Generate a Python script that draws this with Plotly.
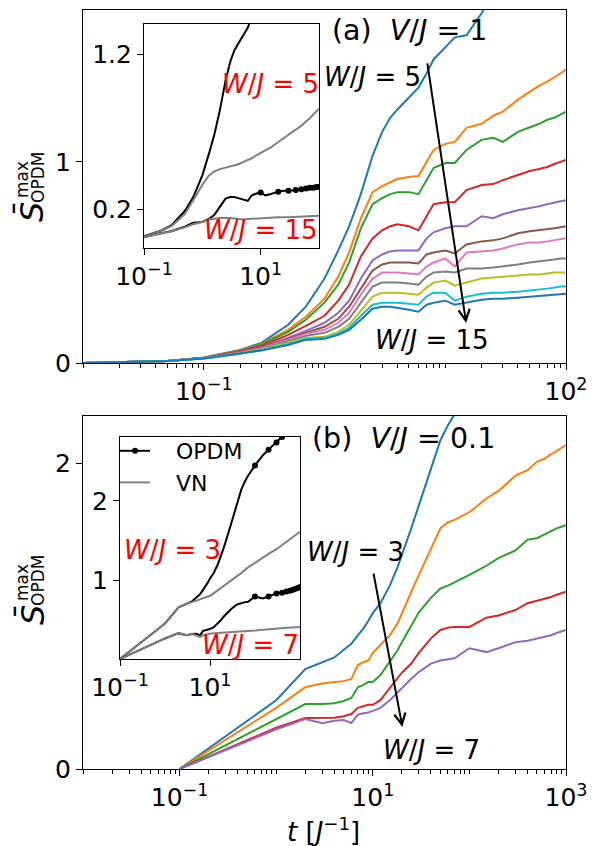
import plotly.graph_objects as go

# ---------------- data : panel (a), V/J = 1 ----------------
t_a = [0.01, 0.02, 0.05, 0.1, 0.2, 0.3, 0.5, 0.7, 1.0, 1.3, 1.6, 2.0, 2.5, 3.0, 3.5, 4, 5, 6, 7, 8,
       10, 12, 15, 20, 25, 30, 40, 50, 60, 70, 80, 90, 100]
W_a = [5, 6, 7, 8, 9, 10, 11, 12, 13, 14, 15]
S_a_W5 = [0, 0.003, 0.010, 0.027, 0.065, 0.10, 0.19, 0.28, 0.42, 0.56, 0.68, 0.84, 1.03, 1.15, 1.22, 1.26, 1.32, 1.37, 1.44, 1.51,
          1.57, 1.62, 1.63, 1.74, 1.85, 1.92, 2.02, 2.10, 2.15, 2.20, 2.24, 2.27, 2.30]
S_a_W6 = [0, 0.003, 0.010, 0.026, 0.062, 0.095, 0.165, 0.23, 0.32, 0.43, 0.55, 0.72, 0.85, 0.88, 0.90, 0.915, 0.925, 0.93, 1.00, 1.06,
          1.09, 1.10, 1.17, 1.19, 1.23, 1.25, 1.31, 1.35, 1.38, 1.40, 1.42, 1.44, 1.46]
S_a_W7 = [0, 0.003, 0.010, 0.025, 0.060, 0.092, 0.155, 0.215, 0.30, 0.39, 0.50, 0.67, 0.79, 0.82, 0.84, 0.85, 0.85, 0.84, 0.91, 0.97,
          0.995, 0.995, 1.06, 1.11, 1.12, 1.10, 1.15, 1.17, 1.19, 1.21, 1.22, 1.235, 1.25]
S_a_W8 = [0, 0.003, 0.010, 0.025, 0.058, 0.085, 0.14, 0.185, 0.235, 0.31, 0.39, 0.53, 0.62, 0.66, 0.68, 0.69, 0.68, 0.66, 0.73, 0.79,
          0.80, 0.80, 0.86, 0.885, 0.89, 0.91, 0.935, 0.955, 0.965, 0.975, 0.99, 1.00, 1.01]
S_a_W9 = [0, 0.003, 0.010, 0.025, 0.055, 0.080, 0.125, 0.16, 0.20, 0.25, 0.31, 0.42, 0.51, 0.54, 0.555, 0.56, 0.56, 0.56, 0.62, 0.65,
          0.67, 0.68, 0.68, 0.73, 0.72, 0.74, 0.76, 0.77, 0.78, 0.79, 0.80, 0.805, 0.81]
S_a_W10 = [0, 0.003, 0.010, 0.025, 0.053, 0.077, 0.12, 0.15, 0.18, 0.22, 0.28, 0.37, 0.46, 0.49, 0.50, 0.50, 0.50, 0.495, 0.54, 0.55,
           0.56, 0.545, 0.59, 0.605, 0.61, 0.62, 0.645, 0.655, 0.66, 0.665, 0.67, 0.675, 0.68]
S_a_W11 = [0, 0.003, 0.010, 0.024, 0.051, 0.074, 0.115, 0.145, 0.165, 0.20, 0.25, 0.34, 0.42, 0.45, 0.45, 0.45, 0.445, 0.44, 0.48, 0.50,
           0.52, 0.48, 0.55, 0.555, 0.56, 0.57, 0.59, 0.60, 0.60, 0.605, 0.61, 0.615, 0.62]
S_a_W12 = [0, 0.003, 0.010, 0.024, 0.050, 0.070, 0.11, 0.135, 0.15, 0.18, 0.22, 0.30, 0.38, 0.40, 0.40, 0.40, 0.395, 0.39, 0.43, 0.45,
           0.455, 0.45, 0.47, 0.47, 0.475, 0.48, 0.49, 0.50, 0.505, 0.51, 0.515, 0.52, 0.52]
S_a_W13 = [0, 0.003, 0.010, 0.023, 0.048, 0.067, 0.10, 0.125, 0.13, 0.155, 0.19, 0.26, 0.33, 0.35, 0.35, 0.35, 0.345, 0.34, 0.375, 0.40,
           0.41, 0.385, 0.40, 0.42, 0.425, 0.43, 0.435, 0.44, 0.44, 0.445, 0.45, 0.45, 0.45]
S_a_W14 = [0, 0.003, 0.010, 0.023, 0.046, 0.064, 0.095, 0.12, 0.125, 0.145, 0.175, 0.235, 0.29, 0.30, 0.30, 0.30, 0.295, 0.29, 0.33, 0.35,
           0.35, 0.31, 0.33, 0.345, 0.35, 0.35, 0.355, 0.36, 0.365, 0.37, 0.375, 0.38, 0.38]
S_a_W15 = [0, 0.003, 0.010, 0.022, 0.045, 0.062, 0.09, 0.115, 0.12, 0.14, 0.165, 0.215, 0.27, 0.28, 0.28, 0.275, 0.265, 0.255, 0.29, 0.30,
           0.31, 0.29, 0.30, 0.315, 0.32, 0.32, 0.325, 0.33, 0.335, 0.34, 0.34, 0.345, 0.345]
S_a = [S_a_W5, S_a_W6, S_a_W7, S_a_W8, S_a_W9, S_a_W10, S_a_W11, S_a_W12, S_a_W13, S_a_W14, S_a_W15]

# inset (a): von Neumann entropy (VN)
t_a_vn = [0.1, 0.2, 0.3, 0.5, 0.7, 1.0, 1.3, 1.6, 2.0, 3.0, 4.0, 5.0, 7.0, 10, 15, 20, 30, 50, 70, 100]
VN_a_W5 = [0.025, 0.062, 0.095, 0.17, 0.26, 0.36, 0.42, 0.445, 0.46, 0.475, 0.49, 0.505, 0.53, 0.565, 0.60, 0.635, 0.68, 0.74, 0.79, 0.85]
VN_a_W15 = [0.022, 0.045, 0.06, 0.085, 0.105, 0.12, 0.135, 0.14, 0.145, 0.145, 0.14, 0.135, 0.14, 0.145, 0.15, 0.15, 0.15, 0.155, 0.155, 0.16]

# ---------------- data : panel (b), V/J = 0.1 ----------------
t_b = [0.1, 1, 2, 3, 4, 5, 6, 7, 8, 9, 10, 12, 15, 18, 20, 25, 30, 40, 50, 60, 70,
       100, 150, 200, 300, 400, 500, 600, 700, 800, 900, 1000]
W_b = [3, 4, 5, 6, 7]
S_b_W3 = [0, 0.45, 0.654, 0.70, 0.73, 0.78, 0.82, 0.875, 0.92, 0.97, 1.02, 1.085, 1.20, 1.32, 1.40, 1.575, 1.725, 1.97, 2.15, 2.25, 2.32,
          2.45, 2.58, 2.65, 2.74, 2.81, 2.86, 2.90, 2.94, 2.97, 3.00, 3.03]
S_b_W4 = [0, 0.40, 0.536, 0.56, 0.57, 0.575, 0.59, 0.68, 0.70, 0.71, 0.76, 0.81, 0.875, 0.95, 1.02, 1.16, 1.27, 1.44, 1.575, 1.615, 1.63,
          1.68, 1.77, 1.82, 1.92, 1.955, 2.01, 2.03, 2.06, 2.08, 2.10, 2.12]
S_b_W5 = [0, 0.33, 0.425, 0.425, 0.43, 0.445, 0.465, 0.535, 0.55, 0.57, 0.57, 0.615, 0.70, 0.775, 0.83, 0.94, 1.025, 1.12, 1.18, 1.20, 1.22,
          1.27, 1.33, 1.38, 1.43, 1.50, 1.51, 1.535, 1.56, 1.575, 1.585, 1.595]
S_b_W6 = [0, 0.27, 0.333, 0.333, 0.335, 0.345, 0.36, 0.40, 0.41, 0.42, 0.42, 0.45, 0.53, 0.59, 0.63, 0.69, 0.76, 0.855, 0.91, 0.925, 0.93,
          0.93, 0.99, 1.005, 1.04, 1.085, 1.10, 1.11, 1.125, 1.14, 1.15, 1.16]
S_b_W7 = [0, 0.26, 0.327, 0.30, 0.315, 0.32, 0.30, 0.355, 0.365, 0.37, 0.38, 0.40, 0.45, 0.50, 0.535, 0.59, 0.635, 0.69, 0.71, 0.72, 0.725,
          0.79, 0.765, 0.79, 0.83, 0.84, 0.855, 0.865, 0.875, 0.89, 0.90, 0.91]
S_b = [S_b_W3, S_b_W4, S_b_W5, S_b_W6, S_b_W7]

# inset (b): VN
t_b_vn = [0.1, 1, 2, 3, 4, 5, 6, 7, 8, 9, 10, 12, 15, 20, 25, 30, 40, 50, 70, 100, 150, 200, 300, 400, 500, 700, 1000]
VN_b_W3 = [0, 0.45, 0.654, 0.70, 0.72, 0.74, 0.755, 0.77, 0.78, 0.785, 0.80, 0.83, 0.87, 0.93, 0.97, 1.0, 1.05, 1.09, 1.16, 1.22,
           1.28, 1.33, 1.39, 1.44, 1.48, 1.54, 1.61]
VN_b_W7 = [0, 0.26, 0.327, 0.30, 0.315, 0.30, 0.28, 0.30, 0.31, 0.315, 0.32, 0.325, 0.33, 0.33, 0.335, 0.34, 0.345, 0.35, 0.355, 0.36,
           0.37, 0.38, 0.385, 0.39, 0.395, 0.40, 0.405]

colors = ['#1f77b4', '#ff7f0e', '#2ca02c', '#d62728', '#9467bd', '#8c564b',
          '#e377c2', '#7f7f7f', '#bcbd22', '#17becf']
GRAY = '#808080'
FONT = 'DejaVu Sans'
W, H = 595, 846


def px(x):
    return x / W


def py(y):
    return 1 - y / H


fig = go.Figure()

# ---- panel (a) main curves
for i, (w, s) in enumerate(zip(W_a, S_a)):
    fig.add_trace(go.Scatter(x=t_a, y=s, mode='lines', line=dict(color=colors[i % 10], width=2),
                             xaxis='x', yaxis='y', showlegend=False, name=f'W/J={w}'))

# ---- inset (a)
fig.add_trace(go.Scatter(x=t_a, y=S_a_W5, mode='lines', line=dict(color='black', width=2),
                         xaxis='x3', yaxis='y3', showlegend=False))
fig.add_trace(go.Scatter(x=t_a_vn, y=VN_a_W5, mode='lines', line=dict(color=GRAY, width=2),
                         xaxis='x3', yaxis='y3', showlegend=False))
fig.add_trace(go.Scatter(x=t_a, y=S_a_W15, mode='lines', line=dict(color='black', width=2),
                         xaxis='x3', yaxis='y3', showlegend=False))
fig.add_trace(go.Scatter(x=t_a_vn, y=VN_a_W15, mode='lines', line=dict(color=GRAY, width=2),
                         xaxis='x3', yaxis='y3', showlegend=False))
mk_a = [(t, s) for t, s in zip(t_a, S_a_W15) if t >= 10 and t % 10 == 0]
fig.add_trace(go.Scatter(x=[m[0] for m in mk_a], y=[m[1] for m in mk_a], mode='markers',
                         marker=dict(color='black', size=6), xaxis='x3', yaxis='y3', showlegend=False))

# ---- panel (b) main curves
for i, (w, s) in enumerate(zip(W_b, S_b)):
    fig.add_trace(go.Scatter(x=t_b, y=s, mode='lines', line=dict(color=colors[i], width=2),
                             xaxis='x2', yaxis='y2', showlegend=False, name=f'W/J={w}'))

# ---- inset (b)
fig.add_trace(go.Scatter(x=t_b, y=S_b_W3, mode='lines', line=dict(color='black', width=2),
                         xaxis='x4', yaxis='y4', showlegend=False))
fig.add_trace(go.Scatter(x=t_b_vn, y=VN_b_W3, mode='lines', line=dict(color=GRAY, width=2),
                         xaxis='x4', yaxis='y4', showlegend=False))
fig.add_trace(go.Scatter(x=t_b, y=S_b_W7, mode='lines', line=dict(color='black', width=2),
                         xaxis='x4', yaxis='y4', showlegend=False))
fig.add_trace(go.Scatter(x=t_b_vn, y=VN_b_W7, mode='lines', line=dict(color=GRAY, width=2),
                         xaxis='x4', yaxis='y4', showlegend=False))
for s in (S_b_W3, S_b_W7):
    mk = [(t, v) for t, v in zip(t_b, s) if t >= 100 and t % 100 == 0]
    fig.add_trace(go.Scatter(x=[m[0] for m in mk], y=[m[1] for m in mk], mode='markers',
                             marker=dict(color='black', size=6), xaxis='x4', yaxis='y4', showlegend=False))

# legend entries
NB = '\u00a0\u00a0\u00a0'
fig.add_trace(go.Scatter(x=[None], y=[None], mode='lines+markers', name=NB + 'OPDM',
                         line=dict(color='black', width=2), marker=dict(color='black', size=6),
                         xaxis='x4', yaxis='y4', showlegend=True))
fig.add_trace(go.Scatter(x=[None], y=[None], mode='lines', name=NB + 'VN',
                         line=dict(color=GRAY, width=2), xaxis='x4', yaxis='y4', showlegend=True))


def minor_vals(lo, hi):
    vals = []
    for e in range(lo, hi):
        for m in range(1, 10):
            vals.append(m * 10 ** e)
    vals.append(10 ** hi)
    return vals


TICKSIZE = 25
axis_common = dict(showline=True, linecolor='black', linewidth=1.2, mirror=True, ticks='outside',
                   ticklen=6, tickwidth=1.2, tickcolor='black', showgrid=False, zeroline=False,
                   automargin=False,
                   tickfont=dict(family=FONT, size=TICKSIZE, color='black'))

maj_a = [0.1, 100]
maj_b = [0.1, 10, 1000]

fig.update_layout(
    width=W, height=H, margin=dict(l=0, r=0, t=0, b=0, autoexpand=False),
    paper_bgcolor='white', plot_bgcolor='white',
    font=dict(family=FONT, color='black'),
    xaxis=dict(domain=[px(83), px(566)], anchor='y', type='log', range=[-2, 2],
               tickmode='array', tickvals=maj_a, ticktext=['10<sup>−1</sup>', '10<sup>2</sup>'],
               minor=dict(tickmode='array', tickvals=[v for v in minor_vals(-2, 2) if v not in maj_a],
                          ticks='outside', ticklen=3.5, tickwidth=1, tickcolor='black'),
               **axis_common),
    yaxis=dict(domain=[py(363), py(10)], anchor='x', range=[0, 1.756],
               tickmode='array', tickvals=[0, 1], ticktext=['0', '1'], **axis_common),
    xaxis2=dict(domain=[px(83), px(566)], anchor='y2', type='log', range=[-2, 3],
                tickmode='array', tickvals=maj_b, ticktext=['10<sup>−1</sup>', '10<sup>1</sup>', '10<sup>3</sup>'],
                minor=dict(tickmode='array', tickvals=[v for v in minor_vals(-2, 3) if v not in maj_b],
                           ticks='outside', ticklen=3.5, tickwidth=1, tickcolor='black'),
                **axis_common),
    yaxis2=dict(domain=[py(769), py(416)], anchor='x2', range=[0, 2.31],
                tickmode='array', tickvals=[0, 2], ticktext=['0', '2'], **axis_common),
    xaxis3=dict(domain=[px(144), px(319)], anchor='y3', type='log', range=[-1, 2],
                tickmode='array', tickvals=[0.1, 10], ticktext=['10<sup>−1</sup>', '10<sup>1</sup>'],
                **axis_common),
    yaxis3=dict(domain=[py(248), py(24)], anchor='x3', range=[-0.048, 1.395],
                tickmode='array', tickvals=[0.2, 1.2], ticktext=['0.2', '1.2'], **axis_common),
    xaxis4=dict(domain=[px(120), px(300)], anchor='y4', type='log', range=[-1, 3],
                tickmode='array', tickvals=[0.1, 10], ticktext=['10<sup>−1</sup>', '10<sup>1</sup>'],
                **axis_common),
    yaxis4=dict(domain=[py(659), py(437)], anchor='x4', range=[0, 2.81],
                tickmode='array', tickvals=[1, 2], ticktext=['1', '2'], **axis_common),
    showlegend=True,
    legend=dict(x=px(115), y=py(430), xanchor='left', yanchor='top', bgcolor='rgba(0,0,0,0)',
                font=dict(family=FONT, size=22, color='black'), tracegroupgap=0),
)

ann = []


def text(xp, yp, s, size=26, color='black', xanchor='center', angle=0):
    ann.append(dict(x=px(xp), y=py(yp), xref='paper', yref='paper', text=s, showarrow=False,
                    xanchor=xanchor, yanchor='middle', textangle=angle,
                    font=dict(family=FONT, size=size, color=color)))


WJ = '<i>W</i>/<i>J</i> = '
text(330, 30, '(a)  <i>V</i>/<i>J</i> = 1', 28.5, xanchor='left')
text(372, 77, WJ + '5')
text(432, 340, WJ + '15')
text(270, 84, WJ + '5', color='red')
text(261, 230, WJ + '15', color='red')

text(310, 438, '(b)  <i>V</i>/<i>J</i> = 0.1', 28.5, xanchor='left')
text(355, 552, WJ + '3')
text(431, 750, WJ + '7')
text(172, 550, WJ + '3', color='red')
text(250, 645, WJ + '7', color='red')

# axis labels
for dy in (0, 403):
    text(32, 212 + dy, '<i>S\u0304</i>', 32, angle=-90)
    text(22, 180 + dy, 'max', 17, angle=-90)
    text(38, 178 + dy, 'OPDM', 17, angle=-90)
text(323, 830, '<i>t</i> [<i>J</i><sup>−1</sup>]', 26)

# arrows
ann.append(dict(x=1.173, y=0.199, ax=0.850, ay=1.4975, xref='x', yref='y', axref='x', ayref='y',
                showarrow=True, arrowhead=5, arrowsize=1.1, arrowwidth=2, arrowcolor='black', text='',
                standoff=0, startstandoff=0))
ann.append(dict(x=1.306, y=0.275, ax=1.005, ay=1.288, xref='x2', yref='y2', axref='x2', ayref='y2',
                showarrow=True, arrowhead=5, arrowsize=1.1, arrowwidth=2, arrowcolor='black', text='',
                standoff=0, startstandoff=0))

fig.update_layout(annotations=ann)
fig.write_html('out.html')
